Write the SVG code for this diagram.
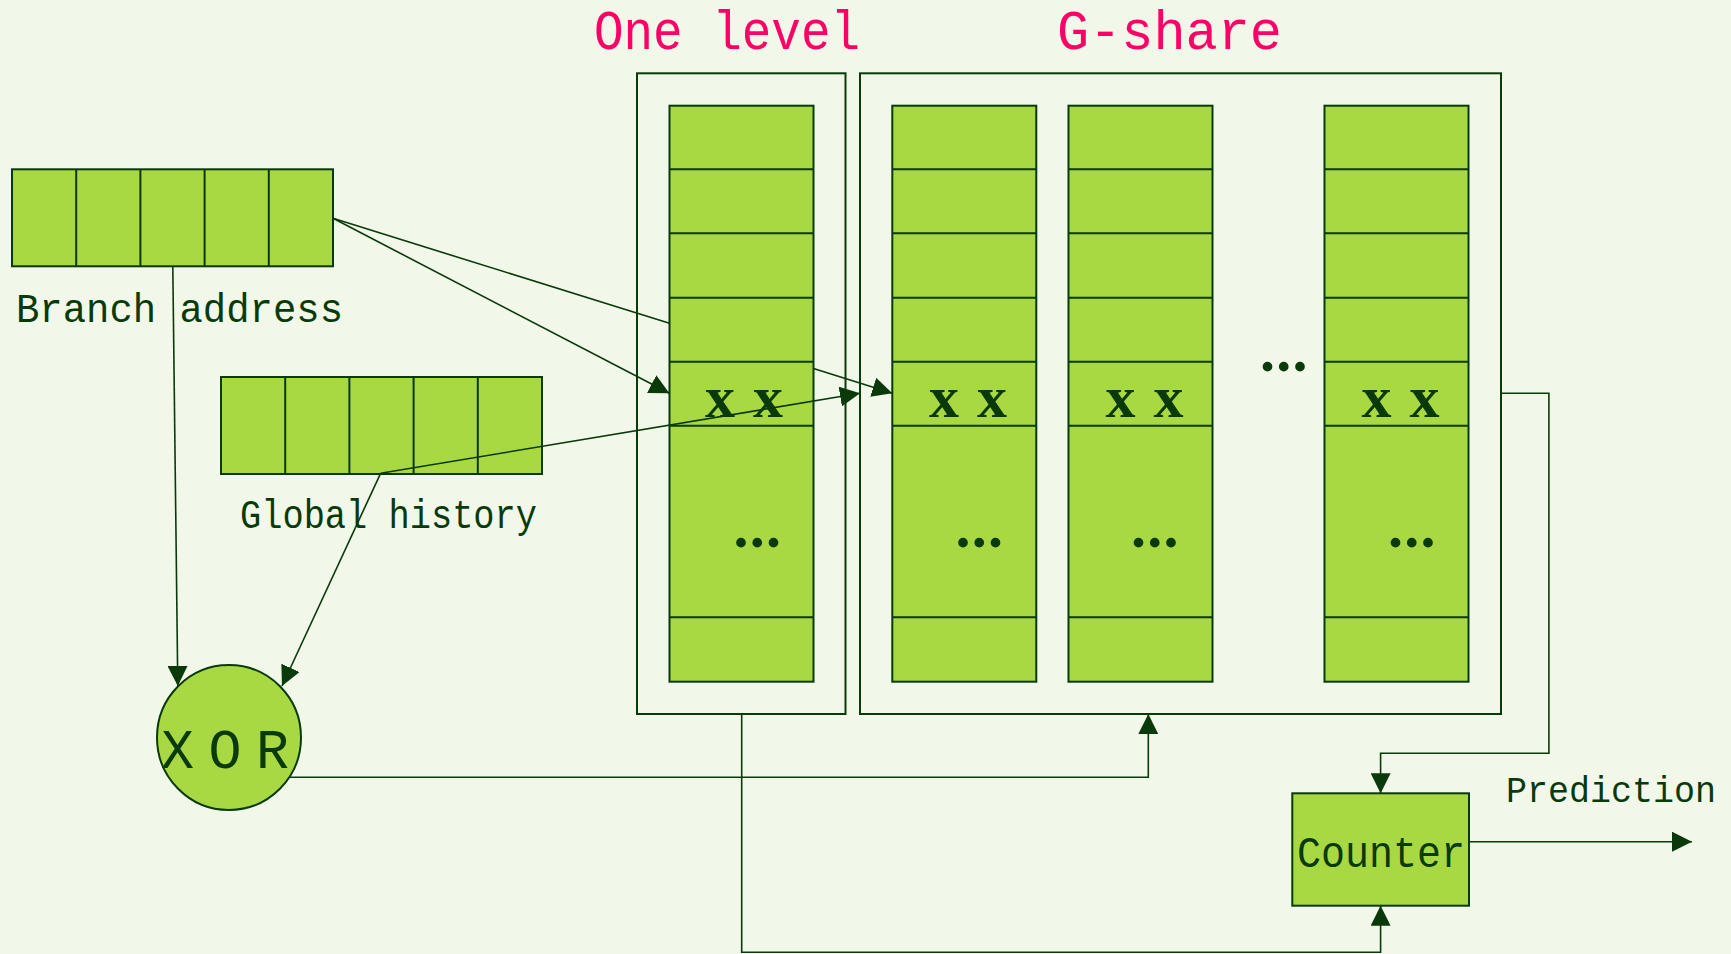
<svg xmlns="http://www.w3.org/2000/svg" xmlns:xlink="http://www.w3.org/1999/xlink" width="1731" height="954" viewBox="0 0 1731 954">
<style>
.bg{fill:#F1F7E9}
.cell{fill:#A8D842;stroke:#0A3A0A;stroke-width:2}
.div{stroke:#0A3A0A;stroke-width:2;fill:none}
.frame{fill:none;stroke:#0A3A0A;stroke-width:2}
.conn{fill:none;stroke:#0A3A0A;stroke-width:1.6}
.arr{marker-end:url(#ah)}
.lbl{font-family:"Liberation Mono",monospace;fill:#0A3A0A}
.title{font-family:"Liberation Mono",monospace;fill:#FF0066;font-size:56px}
.xx{font-family:"Liberation Serif",serif;font-weight:bold;fill:#0A3A0A;font-size:60px}
.dots{font-family:"Liberation Serif",serif;font-weight:bold;fill:#0A3A0A;font-size:60px;letter-spacing:1.2px}
</style>
<defs>
<marker id="ah" markerUnits="userSpaceOnUse" markerWidth="20" markerHeight="20" refX="20" refY="10" orient="auto" viewBox="0 0 20 20">
<path d="M0,0 L20,10 L0,20 Z" fill="#0A3A0A"/>
</marker>
<g id="col">
<rect class="cell" x="0" y="105.7" width="144" height="576"/>
<path class="div" d="M0,169.3H144M0,233.3H144M0,297.7H144M0,361.7H144M0,425.7H144M0,617.3H144"/>
</g>
<g id="reg">
<rect class="cell" x="0" y="0" width="321" height="97"/>
<path class="div" d="M64.2,0V97M128.4,0V97M192.6,0V97M256.8,0V97"/>
</g>
</defs>
<rect class="bg" x="0" y="0" width="1731" height="954"/>

<g id="title-one-level">
<text class="title" x="594" y="49.3" textLength="266" lengthAdjust="spacingAndGlyphs">One level</text>
</g>
<g id="title-g-share">
<text class="title" x="1057" y="49.3" textLength="225" lengthAdjust="spacingAndGlyphs">G-share</text>
</g>

<g id="branch-address">
<use xlink:href="#reg" x="12" y="169.3"/>
<text class="lbl" x="16" y="321.7" font-size="41" textLength="327" lengthAdjust="spacingAndGlyphs">Branch address</text>
</g>

<g id="global-history">
<use xlink:href="#reg" x="221" y="377"/>
<text class="lbl" x="240" y="527.5" font-size="40" textLength="297" lengthAdjust="spacingAndGlyphs">Global history</text>
</g>

<g id="one-level">
<rect class="frame" x="637" y="73.3" width="208.5" height="640.7"/>
<use xlink:href="#col" x="669.5" y="0"/>
<text class="xx" x="705 753" y="416.7">xx</text>
<text class="dots" x="733.5" y="547">...</text>
</g>

<g id="g-share">
<rect class="frame" x="860" y="73.3" width="641" height="640.7"/>
<use xlink:href="#col" x="892.3" y="0"/>
<use xlink:href="#col" x="1068.5" y="0"/>
<use xlink:href="#col" x="1324.5" y="0"/>
<text class="xx" x="929 977" y="416.7">xx</text>
<text class="xx" x="1105.5 1153.5" y="416.7">xx</text>
<text class="xx" x="1361.5 1409.5" y="416.7">xx</text>
<text class="dots" x="955.5" y="547">...</text>
<text class="dots" x="1131" y="547">...</text>
<text class="dots" x="1388" y="547">...</text>
<text class="dots" x="1260" y="371">...</text>
</g>

<g id="xor">
<ellipse class="cell" cx="229" cy="737.5" rx="72" ry="72.5"/>
<text class="lbl" x="161 208.5 256" y="768.3" font-size="55">XOR</text>
</g>

<g id="counter">
<rect class="cell" x="1292.3" y="793.3" width="176.7" height="112.4"/>
<text class="lbl" x="1297" y="866.7" font-size="44" textLength="168" lengthAdjust="spacingAndGlyphs">Counter</text>
</g>

<g id="prediction-label">
<text class="lbl" x="1506" y="801.7" font-size="37" textLength="210" lengthAdjust="spacingAndGlyphs">Prediction</text>
</g>

<g id="connectors">
<path class="conn arr" d="M333,218.3 L669.4,393.3"/>
<path class="conn arr" d="M333,218.3 L669.5,323.3 M813.5,368.6 L892.3,393.3"/>
<path class="conn arr" d="M380.6,473.3 L860,393.3"/>
<path class="conn arr" d="M172.8,266.3 L177.8,686"/>
<path class="conn arr" d="M380.6,473.3 L282,686"/>
<path class="conn arr" d="M289,777.3 H1148.3 V714"/>
<path class="conn arr" d="M741.7,714 V952.3 H1380.6 V905.7"/>
<path class="conn arr" d="M1501,393.3 H1548.9 V753.3 H1380.6 V793.3"/>
<path class="conn arr" d="M1469,841.7 H1692"/>
</g>
</svg>
